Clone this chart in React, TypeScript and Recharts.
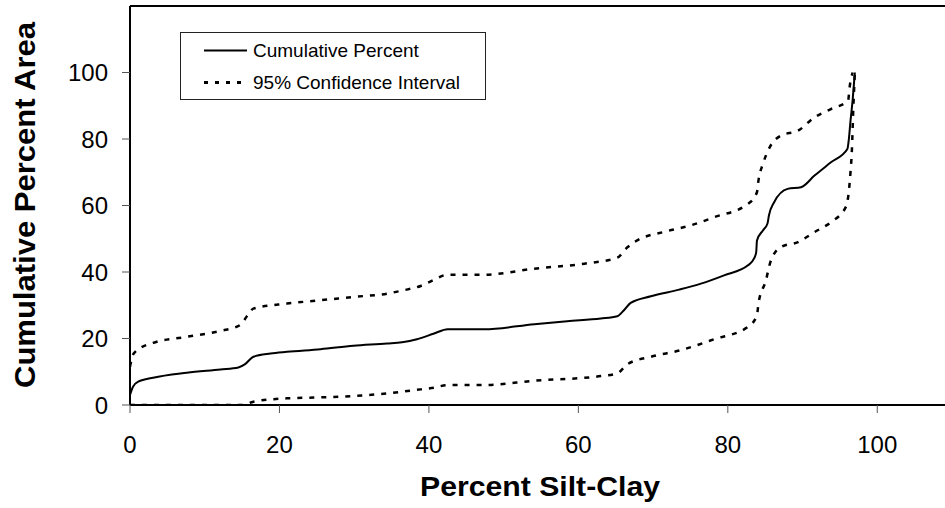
import React from 'react';
import { LineChart, Line, XAxis, YAxis, ReferenceLine, Legend } from 'recharts';

// Cumulative percent curve
const cumX = [0, 0.4, 1.1, 3.1, 7.6, 12.1, 14.5, 15.4, 16.5, 18.8, 21, 25.5, 29.9, 34.4, 36.4, 38.4, 40.7, 42.5, 47.4, 54.1, 58.5, 63, 65.2, 66.1, 67, 69.7, 73.5, 76.4, 79.5, 82.7, 83.5, 83.8, 83.9, 84.7, 85.3, 85.5, 86.2, 88, 89.8, 91.6, 93.8, 96.0, 96.2, 96.4, 96.7, 97];
const cumY = [3, 5.5, 7.0, 8.2, 9.7, 10.7, 11.3, 12.3, 14.5, 15.5, 16, 16.8, 17.8, 18.5, 18.9, 19.8, 21.5, 22.8, 22.8, 24.3, 25.2, 26, 26.7, 28.5, 30.7, 32.7, 34.7, 36.5, 39, 42, 44, 46, 49.5, 52.5, 54.5, 57, 61, 65, 65.5, 69, 73, 77, 80, 85, 91.6, 100];

// Upper 95% confidence bound
const upperX = [0, 0.3, 0.7, 3.1, 7.6, 12.1, 14.7, 15.9, 16.5, 21, 25.5, 29.9, 34.4, 36.6, 38.9, 40.7, 42.5, 47.4, 54.1, 60.8, 65.2, 66.6, 67.5, 71.9, 75, 78.2, 82.7, 83.9, 84.1, 84.7, 85.6, 87.1, 89.4, 91.6, 93.8, 96.1, 96.3, 96.7];
const upperY = [11.5, 14.5, 16, 18.7, 20.5, 22.3, 24, 27.5, 29, 30.5, 31.5, 32.5, 33.5, 34.5, 35.8, 37.7, 39.2, 39.2, 41, 42.5, 44.3, 47.5, 49, 52.3, 54, 56.5, 60.5, 64, 67.5, 72.5, 77.5, 81, 82.5, 86.5, 89, 91.6, 95.6, 100];

// Lower 95% confidence bound
const lowerX = [0, 15, 16.5, 21, 25.5, 29.9, 34.4, 38.9, 40.7, 42.5, 47.4, 54.1, 63, 65.2, 66.6, 69.7, 73.7, 78.2, 82.7, 83.9, 84.1, 85.1, 85.7, 87.1, 89.4, 91.6, 93.8, 95.8, 96.1, 96.4, 96.6, 96.8, 97];
const lowerY = [0, 0, 1, 2, 2.3, 2.7, 3.5, 4.7, 5.2, 6, 6, 7.3, 8.7, 9.5, 12.3, 14.5, 16.5, 19.8, 23.5, 27, 30.5, 37.5, 43, 47.5, 49, 52, 55, 59.6, 62.5, 69.5, 76.5, 89.5, 100];

const xTicks = [0, 20, 40, 60, 80, 100];
const yTicks = [0, 20, 40, 60, 80, 100];

const seriesNames = ['Cumulative Percent', '95% Confidence Interval'];
const xTitle = 'Percent Silt-Clay';
const yTitle = 'Cumulative Percent Area';

const zip = (xs: number[], ys: number[]) => xs.map((x, i) => ({ x, y: ys[i] }));
const cumData = zip(cumX, cumY);
const upperData = zip(upperX, upperY);
const lowerData = zip(lowerX, lowerY);

const FONT = '"Liberation Sans", Arial, sans-serif';

const LegendBox = () => (
  <div
    style={{
      width: 306,
      height: 68,
      border: '1px solid #222',
      boxSizing: 'border-box',
      background: '#fff',
      position: 'relative',
      fontFamily: FONT,
      fontSize: 19,
      color: '#000',
    }}
  >
    <svg width={306} height={68} style={{ position: 'absolute', left: -1, top: -1 }}>
      <line x1={24} x2={67} y1={18.5} y2={18.5} stroke="#000" strokeWidth={2} />
      <line x1={24} x2={67} y1={50.5} y2={50.5} stroke="#000" strokeWidth={3} strokeDasharray="4 7" />
      <text x={73} y={18.5} dominantBaseline="central" fontFamily={FONT} fontSize={19} fill="#000">
        {seriesNames[0]}
      </text>
      <text x={73} y={50.5} dominantBaseline="central" fontFamily={FONT} fontSize={19} fill="#000">
        {seriesNames[1]}
      </text>
    </svg>
  </div>
);

export default function App() {
  return (
    <div style={{ position: 'absolute', left: 0, top: 0, width: 945, height: 508, overflow: 'hidden', background: '#fff' }}>
      <LineChart width={952} height={508} margin={{ top: 6, right: 0, left: 0, bottom: 0 }}>
        <XAxis
          type="number"
          dataKey="x"
          domain={[0, 110]}
          ticks={xTicks}
          allowDataOverflow
          height={103}
          axisLine={{ stroke: '#000', strokeWidth: 2 }}
          tickLine={{ stroke: '#555', strokeWidth: 1 }}
          tickSize={8}
          tickMargin={23}
          tick={{ fill: '#000', fontSize: 24, fontFamily: FONT }}
          label={{
            content: () => (
              <text x={540} y={496} textAnchor="middle" fontFamily={FONT} fontWeight="bold" fontSize={28} fill="#000" textLength={240} lengthAdjust="spacingAndGlyphs">
                {xTitle}
              </text>
            ),
          }}
        />
        <YAxis
          type="number"
          domain={[0, 120]}
          ticks={yTicks}
          allowDataOverflow
          width={130}
          axisLine={{ stroke: '#000', strokeWidth: 2 }}
          tickLine={{ stroke: '#555', strokeWidth: 1 }}
          tickSize={8}
          tickMargin={14}
          tick={{ fill: '#000', fontSize: 24, fontFamily: FONT }}
          label={{
            content: () => (
              <text x={35} y={205} transform="rotate(-90 35 205)" textAnchor="middle" fontFamily={FONT} fontWeight="bold" fontSize={30} fill="#000" textLength={366} lengthAdjust="spacingAndGlyphs">
                {yTitle}
              </text>
            ),
          }}
        />
        <ReferenceLine y={120} stroke="#000" strokeWidth={2} />
        <Legend
          layout="vertical"
          align="center"
          verticalAlign="middle"
          wrapperStyle={{ left: 180, top: 32, width: 306, height: 68, right: 'auto', bottom: 'auto' }}
          content={() => <LegendBox />}
        />
        <Line data={lowerData} dataKey="y" name="lower" type="monotone" stroke="#000" strokeWidth={2.5} strokeDasharray="5 7" dot={false} activeDot={false} isAnimationActive={false} legendType="none" />
        <Line data={upperData} dataKey="y" name={seriesNames[1]} type="monotone" stroke="#000" strokeWidth={2.5} strokeDasharray="5 7" dot={false} activeDot={false} isAnimationActive={false} />
        <Line data={cumData} dataKey="y" name={seriesNames[0]} type="monotone" stroke="#000" strokeWidth={2} dot={false} activeDot={false} isAnimationActive={false} />
      </LineChart>
    </div>
  );
}
